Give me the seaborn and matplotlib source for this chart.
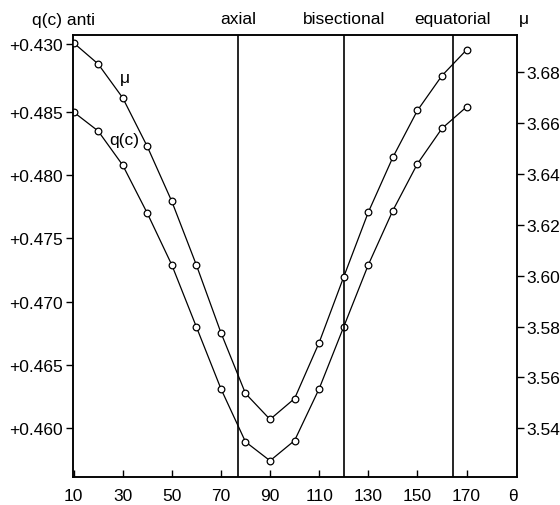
import matplotlib
matplotlib.use("Agg")
import matplotlib.pyplot as plt
import seaborn as sns
import pandas as pd

sns.set_style("ticks")
plt.rcParams["font.family"] = ["Liberation Sans", "DejaVu Sans"]
plt.rcParams["font.size"] = 12.5
plt.rcParams["text.color"] = "black"
plt.rcParams["xtick.color"] = "black"
plt.rcParams["ytick.color"] = "black"
plt.rcParams["xtick.labelcolor"] = "black"
plt.rcParams["ytick.labelcolor"] = "black"

# data
theta = [10, 20, 30, 40, 50, 60, 70, 80, 90, 100, 110, 120, 130, 140, 150, 160, 170]
qc = [0.4850, 0.4835, 0.4808, 0.4770, 0.4729, 0.4680, 0.4631, 0.4589, 0.4574,
      0.4590, 0.4631, 0.4680, 0.4729, 0.4772, 0.4809, 0.4837, 0.4854]
mu = [3.6915, 3.6832, 3.6699, 3.6508, 3.6292, 3.6042, 3.5776, 3.5537, 3.5435,
      3.5517, 3.5737, 3.5995, 3.6249, 3.6465, 3.6649, 3.6786, 3.6887]

conf_pos = [77, 120, 164.3]
conf_names = ["axial", "bisectional", "equatorial"]

x_ticks = [10, 30, 50, 70, 90, 110, 130, 150, 170]
q_ticks = [0.4904, 0.485, 0.480, 0.475, 0.470, 0.465, 0.460]
q_labels = ["+0.430", "+0.485", "+0.480", "+0.475", "+0.470", "+0.465", "+0.460"]
mu_ticks = [3.54, 3.56, 3.58, 3.60, 3.62, 3.64, 3.66, 3.68]

df = pd.DataFrame({"theta": theta, "qc": qc, "mu": mu})

fig = plt.figure(figsize=(5.6, 5.06), dpi=100)
ax = fig.add_axes([0.130, 0.055, 0.793, 0.874])
ax2 = ax.twinx()

style = dict(color="black", linewidth=0.9, marker="o", markersize=4.8,
             markerfacecolor="white", markeredgecolor="black", markeredgewidth=0.9)
sns.lineplot(data=df, x="theta", y="qc", ax=ax, **style)
sns.lineplot(data=df, x="theta", y="mu", ax=ax2, **style)

for p in conf_pos:
    ax.axvline(p, color="black", linewidth=1.2)

ax.set_xlim(9.7, 190.5)
ax.set_ylim(0.4561, 0.4911)
ax2.set_ylim(3.5208, 3.6946)

ax.set_xticks(x_ticks)
ax.set_xticklabels([str(t) for t in x_ticks])
ax.tick_params(axis="x", direction="in", length=5, width=1, pad=8)
ax.set_yticks(q_ticks)
ax.set_yticklabels(q_labels)
ax.tick_params(axis="y", direction="out", length=5, width=1, pad=2)
ax2.set_yticks(mu_ticks)
ax2.set_yticklabels([f"{v:.2f}" for v in mu_ticks])
ax2.tick_params(axis="y", direction="out", length=5, width=1, pad=2)

for a in (ax, ax2):
    a.set_xlabel("")
    a.set_ylabel("")
    for s in a.spines.values():
        s.set_visible(True)
        s.set_linewidth(1.1)
        s.set_color("black")

# header texts above the frame
fig.text(32 / 560, 1 - 20 / 506, "q(c) anti", ha="left", va="center")
for p, n in zip(conf_pos, conf_names):
    ax.text(p, 1.02, n, transform=ax.get_xaxis_transform(), ha="center", va="bottom")
ax.text(1.005, 1.02, "\u03bc", transform=ax.transAxes, ha="left", va="bottom")
ax.text(0.99, -0.025, "\u03b8", transform=ax.transAxes, ha="center", va="top")

# curve labels
ax2.text(31, 3.678, "\u03bc", ha="center", va="center")
ax.text(30.5, 0.4828, "q(c)", ha="center", va="center")

fig.savefig("out.png", dpi=100)
